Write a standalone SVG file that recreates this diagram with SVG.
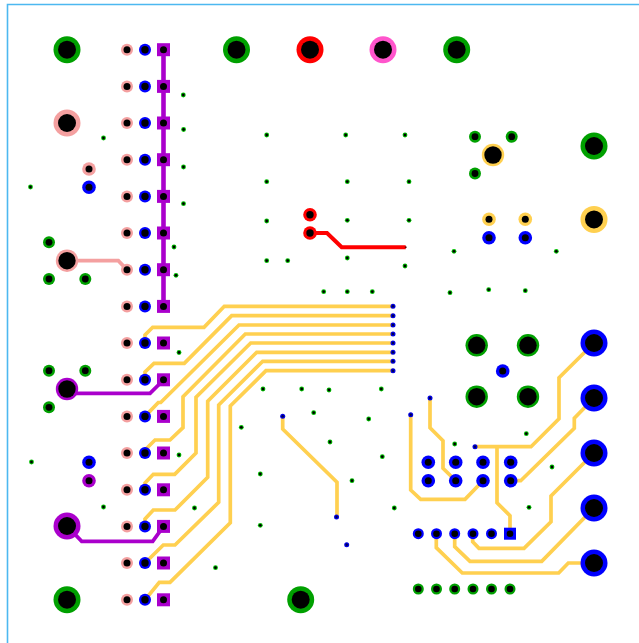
<svg xmlns="http://www.w3.org/2000/svg" xmlns:xlink="http://www.w3.org/1999/xlink" width="639" height="643" viewBox="0 0 639 643">
<style>
.t{fill:none;stroke-linejoin:miter;stroke-linecap:butt}
.y{stroke:#ffd050;stroke-width:3.7}
.h{fill:#000}
</style>
<defs>
<g id="xl-g"><circle r="13.5" fill="#00a000"/><circle class="h" r="9"/></g>
<g id="xl-pk"><circle r="13.5" fill="#f4a0a0"/><circle class="h" r="9"/></g>
<g id="xl-r"><circle r="13.5" fill="#f00"/><circle class="h" r="9"/></g>
<g id="xl-m"><circle r="13.5" fill="#ff55cc"/><circle class="h" r="9"/></g>
<g id="xl-y"><circle r="13.5" fill="#ffd050"/><circle class="h" r="9"/></g>
<g id="xl-b"><circle r="13.5" fill="#00f"/><circle class="h" r="9"/></g>
<g id="xl-p"><circle r="13.5" fill="#aa00cc"/><circle class="h" r="9"/></g>
<g id="l-g"><circle r="11.2" fill="#00a000"/><circle class="h" r="8.7"/></g>
<g id="l-pk"><circle r="11.2" fill="#f4a0a0"/><circle class="h" r="8.7"/></g>
<g id="l-p"><circle r="11.2" fill="#aa00cc"/><circle class="h" r="8.7"/></g>
<g id="l-y"><circle r="11.2" fill="#ffd050"/><circle class="h" r="8.7"/></g>
<g id="pk"><circle r="6" fill="#f4a0a0"/><circle class="h" r="3.5"/></g>
<g id="bl"><circle r="6" fill="#00f"/><circle class="h" r="3.7"/></g>
<g id="sq"><rect x="-6.5" y="-6.5" width="13" height="13" fill="#aa00cc"/><circle class="h" r="3.5"/></g>
<g id="m-pk"><circle r="6.8" fill="#f4a0a0"/><circle class="h" r="3.5"/></g>
<g id="m-b"><circle r="6.8" fill="#00f"/><circle class="h" r="3.5"/></g>
<g id="m-p"><circle r="6.8" fill="#aa00cc"/><circle class="h" r="3.5"/></g>
<g id="m-r"><circle r="6.8" fill="#f00"/><circle class="h" r="3.7"/></g>
<g id="m-y"><circle r="6.8" fill="#ffd050"/><circle class="h" r="3.5"/></g>
<g id="m-g"><circle r="6" fill="#00a000"/><circle class="h" r="3.4"/></g>
<g id="s-b"><circle r="5.5" fill="#00f"/><circle class="h" r="3.3"/></g>
<g id="s-g"><circle r="5.5" fill="#00a000"/><circle class="h" r="3.3"/></g>
<g id="sqb"><rect x="-6" y="-6" width="12" height="12" fill="#00f"/><circle class="h" r="3.3"/></g>
<g id="vg"><circle r="2.4" fill="#00c000"/><circle class="h" r="1.4"/></g>
<g id="vb"><circle r="2.5" fill="#0000e0"/><circle r="1.2" fill="#000050"/></g>
</defs>
<g id="outline"><path class="t" d="M639 4.5H7.5V643" stroke="#4db8f0" stroke-width="1.6"/></g>
<g id="traces">
<g id="yellow">
<path class="t y" d="M145 343V335L152.7 327.3H204L224.3 306.3H393"/>
<path class="t y" d="M145 379.8V372L154 363.3H184.3L231.7 315.7H393"/>
<path class="t y" d="M145 416.4L158.3 402.5H160.7L239 325H393"/>
<path class="t y" d="M145 453V450L155 440H170L183 427.7V396.7L245.3 334H393"/>
<path class="t y" d="M145 489.8V483L153.3 474.3H174.7L196 453V397.3L250.7 343H393"/>
<path class="t y" d="M145 526.4V519L153.3 510H175L207.7 477.3V401.3L256.7 352.3H393"/>
<path class="t y" d="M145 563L163.3 545H175L218.7 502.3V405L262.7 361.3H393"/>
<path class="t y" d="M145 599.8L159.3 582.3H170L230.3 522.7V406L266 370.7H393"/>
<path class="t y" d="M282.7 416.3V429L337 482.3V517"/>
<path class="t y" d="M430 398V427.7L443 440.7V468.3L455.7 480.7"/>
<path class="t y" d="M410.7 414.7V490L420.7 499.3H465L483 480.7"/>
<path class="t y" d="M475 446.7H531L559 418.7V377.7L594 343"/>
<path class="t y" d="M497 446.7V502.7L510 515.7V533.7"/>
<path class="t y" d="M510.7 480.7H520.7L574.3 428.3V418.3L594 398"/>
<path class="t y" d="M594 453L551 496V521.7L524 548.3H479L472.7 541.7V533.7"/>
<path class="t y" d="M594 508L541.7 561.3H470L454.7 546.7V533.7"/>
<path class="t y" d="M594 563H568.3L558.7 573H462.3L436.3 547.7V533.7"/>
</g>
<path id="pink" class="t" d="M67 260.7H118.3L127 269.7" stroke="#f4a0a0" stroke-width="3.7"/>
<path id="purple-bus" class="t" d="M163.5 49.7V306.4" stroke="#aa00cc" stroke-width="4.6"/>
<path id="purple-1" class="t" d="M67 393.3H150L163.5 380" stroke="#aa00cc" stroke-width="3.7"/>
<path id="purple-2" class="t" d="M67 526L81.7 541.3H152.7L163.5 526.4" stroke="#aa00cc" stroke-width="3.7"/>
<path id="red" class="t" d="M310 233H327L341.7 247.3H405.7" stroke="#f00" stroke-width="4"/>
</g>
<g id="header-pads">
<use href="#pk" x="127" y="49.7"/><use href="#bl" x="145" y="49.7"/><use href="#sq" x="163.5" y="49.7"/>
<use href="#pk" x="127" y="86.4"/><use href="#bl" x="145" y="86.4"/><use href="#sq" x="163.5" y="86.4"/>
<use href="#pk" x="127" y="123"/><use href="#bl" x="145" y="123"/><use href="#sq" x="163.5" y="123"/>
<use href="#pk" x="127" y="159.7"/><use href="#bl" x="145" y="159.7"/><use href="#sq" x="163.5" y="159.7"/>
<use href="#pk" x="127" y="196.4"/><use href="#bl" x="145" y="196.4"/><use href="#sq" x="163.5" y="196.4"/>
<use href="#pk" x="127" y="233"/><use href="#bl" x="145" y="233"/><use href="#sq" x="163.5" y="233"/>
<use href="#pk" x="127" y="269.7"/><use href="#bl" x="145" y="269.7"/><use href="#sq" x="163.5" y="269.7"/>
<use href="#pk" x="127" y="306.4"/><use href="#bl" x="145" y="306.4"/><use href="#sq" x="163.5" y="306.4"/>
<use href="#pk" x="127" y="343"/><use href="#bl" x="145" y="343"/><use href="#sq" x="163.5" y="343"/>
<use href="#pk" x="127" y="379.8"/><use href="#bl" x="145" y="379.8"/><use href="#sq" x="163.5" y="379.8"/>
<use href="#pk" x="127" y="416.4"/><use href="#bl" x="145" y="416.4"/><use href="#sq" x="163.5" y="416.4"/>
<use href="#pk" x="127" y="453"/><use href="#bl" x="145" y="453"/><use href="#sq" x="163.5" y="453"/>
<use href="#pk" x="127" y="489.8"/><use href="#bl" x="145" y="489.8"/><use href="#sq" x="163.5" y="489.8"/>
<use href="#pk" x="127" y="526.4"/><use href="#bl" x="145" y="526.4"/><use href="#sq" x="163.5" y="526.4"/>
<use href="#pk" x="127" y="563"/><use href="#bl" x="145" y="563"/><use href="#sq" x="163.5" y="563"/>
<use href="#pk" x="127" y="599.8"/><use href="#bl" x="145" y="599.8"/><use href="#sq" x="163.5" y="599.8"/>
</g>
<g id="large-pads">
<use href="#xl-g" x="67" y="49.7"/><use href="#xl-pk" x="67" y="123"/><use href="#xl-p" x="67" y="526"/><use href="#xl-g" x="67" y="599.7"/>
<use href="#xl-g" x="236.5" y="49.7"/><use href="#xl-r" x="310" y="49.7"/><use href="#xl-m" x="383" y="49.7"/><use href="#xl-g" x="456.7" y="49.7"/>
<use href="#xl-g" x="300.7" y="599.7"/>
<use href="#xl-g" x="594" y="146"/><use href="#xl-y" x="594" y="219.4"/>
<use href="#xl-b" x="594" y="343"/><use href="#xl-b" x="594" y="398"/><use href="#xl-b" x="594" y="453"/><use href="#xl-b" x="594" y="508"/><use href="#xl-b" x="594" y="563"/>
<use href="#l-pk" x="67" y="260.7"/><use href="#l-p" x="67" y="389"/><use href="#l-y" x="493" y="155"/>
<use href="#l-g" x="476.7" y="345.3"/><use href="#l-g" x="528" y="345.3"/><use href="#l-g" x="476.7" y="396.7"/><use href="#l-g" x="528" y="396.7"/>
</g>
<g id="medium-pads">
<use href="#m-pk" x="89" y="169"/><use href="#m-b" x="89" y="187.3"/><use href="#m-b" x="89" y="462.3"/><use href="#m-p" x="89" y="480.7"/>
<use href="#m-g" x="49" y="242.3"/><use href="#m-g" x="49" y="279"/><use href="#m-g" x="85.3" y="279"/>
<use href="#m-g" x="49" y="370.7"/><use href="#m-g" x="85.3" y="370.7"/><use href="#m-g" x="49" y="407.3"/>
<use href="#m-g" x="475" y="136.7"/><use href="#m-g" x="511.7" y="136.7"/><use href="#m-g" x="475" y="173.5"/>
<use href="#m-y" x="489" y="219.3"/><use href="#m-y" x="525.3" y="219.3"/><use href="#m-b" x="489" y="237.7"/><use href="#m-b" x="525.3" y="237.7"/>
<use href="#m-r" x="310" y="214.7"/><use href="#m-r" x="310" y="233"/>
<use href="#m-b" x="502.7" y="371"/>
<use href="#m-b" x="428.3" y="462.3"/><use href="#m-b" x="455.7" y="462.3"/><use href="#m-b" x="483" y="462.3"/><use href="#m-b" x="510.7" y="462.3"/>
<use href="#m-b" x="428.3" y="480.7"/><use href="#m-b" x="455.7" y="480.7"/><use href="#m-b" x="483" y="480.7"/><use href="#m-b" x="510.7" y="480.7"/>
<use href="#s-b" x="418.3" y="533.7"/><use href="#s-b" x="436.5" y="533.7"/><use href="#s-b" x="454.7" y="533.7"/><use href="#s-b" x="473" y="533.7"/><use href="#s-b" x="491.5" y="533.7"/><use href="#sqb" x="510" y="533.7"/>
<use href="#s-g" x="418.3" y="589"/><use href="#s-g" x="436.5" y="589"/><use href="#s-g" x="454.7" y="589"/><use href="#s-g" x="473" y="589"/><use href="#s-g" x="491.5" y="589"/><use href="#s-g" x="510" y="589"/>
</g>
<g id="green-vias">
<use href="#vg" x="183.3" y="95"/><use href="#vg" x="183.6" y="129.5"/><use href="#vg" x="183.5" y="167"/><use href="#vg" x="183.5" y="203.7"/><use href="#vg" x="103.5" y="138"/><use href="#vg" x="30.5" y="187"/>
<use href="#vg" x="174" y="247"/><use href="#vg" x="176" y="275.3"/><use href="#vg" x="179" y="352.5"/>
<use href="#vg" x="31.5" y="462"/><use href="#vg" x="103.5" y="507"/><use href="#vg" x="179" y="455"/><use href="#vg" x="194.5" y="508"/><use href="#vg" x="215.5" y="567.7"/>
<use href="#vg" x="263" y="389"/><use href="#vg" x="301.7" y="389"/><use href="#vg" x="329" y="390"/><use href="#vg" x="381.3" y="389"/><use href="#vg" x="313.7" y="412.7"/><use href="#vg" x="368.7" y="419"/><use href="#vg" x="241.3" y="427.3"/><use href="#vg" x="330" y="442"/><use href="#vg" x="382.3" y="456.7"/><use href="#vg" x="260.3" y="474"/><use href="#vg" x="352" y="480.7"/><use href="#vg" x="394.3" y="508"/><use href="#vg" x="260.3" y="525.3"/>
<use href="#vg" x="454.7" y="444"/><use href="#vg" x="526.3" y="433.7"/><use href="#vg" x="552" y="467"/><use href="#vg" x="529" y="507.3"/>
<use href="#vg" x="266.7" y="135"/><use href="#vg" x="345.7" y="135"/><use href="#vg" x="405" y="135"/><use href="#vg" x="266.7" y="181.7"/><use href="#vg" x="347.3" y="181.7"/><use href="#vg" x="409" y="181.7"/><use href="#vg" x="266.7" y="221"/><use href="#vg" x="347.3" y="220.3"/><use href="#vg" x="409" y="220.3"/><use href="#vg" x="266.7" y="260.7"/><use href="#vg" x="287.7" y="260.7"/><use href="#vg" x="347.3" y="258"/><use href="#vg" x="405" y="266"/><use href="#vg" x="323.7" y="291.7"/><use href="#vg" x="347.3" y="291.7"/><use href="#vg" x="372.3" y="291.7"/>
<use href="#vg" x="454" y="251.3"/><use href="#vg" x="556.3" y="251.3"/><use href="#vg" x="450" y="292.7"/><use href="#vg" x="488.7" y="289.7"/><use href="#vg" x="525.3" y="290.7"/>
</g>
<g id="blue-vias">
<use href="#vb" x="393" y="306.3"/><use href="#vb" x="393" y="315.7"/><use href="#vb" x="393" y="325"/><use href="#vb" x="393" y="334"/><use href="#vb" x="393" y="343"/><use href="#vb" x="393" y="352.3"/><use href="#vb" x="393" y="361.3"/><use href="#vb" x="393" y="370.7"/>
<use href="#vb" x="282.7" y="416.3"/><use href="#vb" x="336.5" y="517"/><use href="#vb" x="346.7" y="544.7"/><use href="#vb" x="410.7" y="414.7"/><use href="#vb" x="430" y="398"/><use href="#vb" x="475" y="446.7"/>
<circle cx="405.7" cy="247.3" r="1" fill="#600"/>
</g>
</svg>
